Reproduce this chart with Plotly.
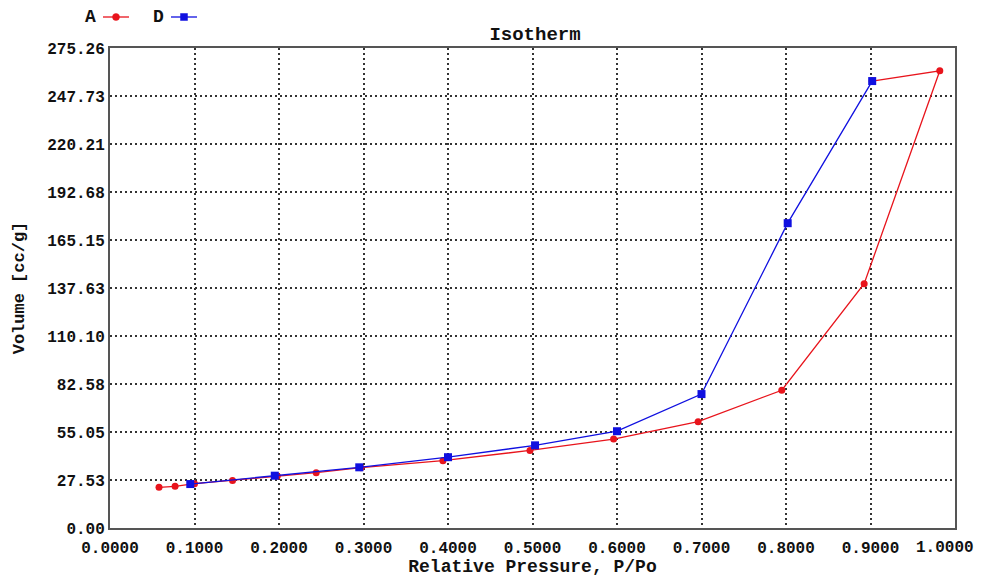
import plotly.graph_objects as go

# Data
a_x = [0.058, 0.077, 0.100, 0.145, 0.198, 0.244, 0.297, 0.394, 0.497, 0.596, 0.696, 0.795, 0.8925, 0.982, 0.902]
a_y = [23.3, 23.9, 25.4, 27.3, 29.8, 31.7, 34.6, 38.6, 44.5, 51.0, 61.0, 79.0, 140.1, 262.2, 256.3]
d_x = [0.095, 0.195, 0.295, 0.400, 0.503, 0.600, 0.700, 0.802, 0.902]
d_y = [25.2, 30.0, 34.8, 40.6, 47.4, 55.5, 76.8, 174.8, 256.3]

y_ticks = [0.00, 27.53, 55.05, 82.58, 110.10, 137.63, 165.15, 192.68, 220.21, 247.73, 275.26]
y_tick_text = ["0.00", "27.53", "55.05", "82.58", "110.10", "137.63", "165.15", "192.68", "220.21", "247.73", "275.26"]
x_ticks = [0.0, 0.1, 0.2, 0.3, 0.4, 0.5, 0.6, 0.7, 0.8, 0.9]
x_tick_text = ["0.0000", "0.1000", "0.2000", "0.3000", "0.4000", "0.5000", "0.6000",
               "0.7000", "0.8000", "0.9000"]
x_last_tick = 1.0
x_last_text = "1.0000"

FONT = "Liberation Mono"
RED = "#e8141c"
BLUE = "#1010e0"

W, H = 982, 577
ML, MR, MT, MB = 110, 27, 48, 49
PW, PH = W - ML - MR, H - MT - MB


def px_x(p):
    return (p - ML) / PW


def px_y(p):
    return (H - MB - p) / PH


fig = go.Figure()
fig.add_trace(go.Scatter(
    x=a_x, y=a_y, name="A", mode="lines+markers",
    line=dict(color=RED, width=1.3),
    marker=dict(symbol="circle", size=7, color=RED),
))
fig.add_trace(go.Scatter(
    x=d_x, y=d_y, name="D", mode="lines+markers",
    line=dict(color=BLUE, width=1.3),
    marker=dict(symbol="square", size=8, color=BLUE),
))

# Legend drawn manually (text left of symbol)
legend_items = [("A", RED, "circle", 98), ("D", BLUE, "square", 166)]
shapes = []
annotations = []
yy_px = 17
for name, col, sym, tx in legend_items:
    annotations.append(dict(
        x=px_x(tx), y=px_y(yy_px), xref="paper", yref="paper",
        text=f"<b>{name}</b>", showarrow=False, xanchor="right", yanchor="middle",
        font=dict(family=FONT, size=18, color="#111"),
    ))
    x0, x1 = tx + 5, tx + 31
    shapes.append(dict(type="line", xref="paper", yref="paper",
                       x0=px_x(x0), x1=px_x(x1), y0=px_y(yy_px), y1=px_y(yy_px),
                       line=dict(color=col, width=1.3)))
    xc = (x0 + x1) / 2
    shapes.append(dict(type="circle" if sym == "circle" else "rect", xref="paper", yref="paper",
                       x0=px_x(xc - 3.5), x1=px_x(xc + 3.5), y0=px_y(yy_px + 3.5), y1=px_y(yy_px - 3.5),
                       fillcolor=col, line=dict(color=col, width=0.5)))

# last x tick label, nudged left so it stays inside the page
annotations.append(dict(
    x=x_last_tick, y=px_y(548), xref="x", yref="paper", xshift=-10,
    text=f"<b>{x_last_text}</b>", showarrow=False, xanchor="center", yanchor="middle",
    font=dict(family=FONT, size=16, color="#111"),
))

fig.update_layout(
    width=W, height=H,
    margin=dict(l=ML, r=MR, t=MT, b=MB, autoexpand=False),
    paper_bgcolor="white", plot_bgcolor="white",
    showlegend=False,
    title=dict(text="<b>Isotherm</b>", x=535 / W, xanchor="center", y=1 - 33 / H, yanchor="middle",
               font=dict(family=FONT, size=19, color="#111")),
    shapes=shapes,
    annotations=annotations,
    font=dict(family=FONT, color="#111"),
)
fig.update_xaxes(
    range=[0, 1], tickvals=x_ticks, ticktext=x_tick_text,
    tickfont=dict(family=FONT, size=16, color="#111", weight="bold"),
    ticklabelstandoff=4, automargin=False,
    title=dict(text="<b>Relative Pressure, P/Po</b>", font=dict(family=FONT, size=18, color="#111"), standoff=10),
    showgrid=True, gridcolor="#333", gridwidth=2, griddash="2px,3px",
    showline=True, linecolor="#555", linewidth=2, mirror=True,
    zeroline=False, ticks="", ticklen=0,
)
fig.update_yaxes(
    range=[0, 275.26], tickvals=y_ticks, ticktext=y_tick_text,
    tickfont=dict(family=FONT, size=16, color="#111", weight="bold"),
    automargin=False,
    title=dict(text="<b>Volume [cc/g]</b>", font=dict(family=FONT, size=17, color="#111"), standoff=18),
    showgrid=True, gridcolor="#333", gridwidth=2, griddash="2px,3px",
    showline=True, linecolor="#555", linewidth=2, mirror=True,
    zeroline=False, ticks="", ticklen=0,
)

fig.write_html("out.html")
